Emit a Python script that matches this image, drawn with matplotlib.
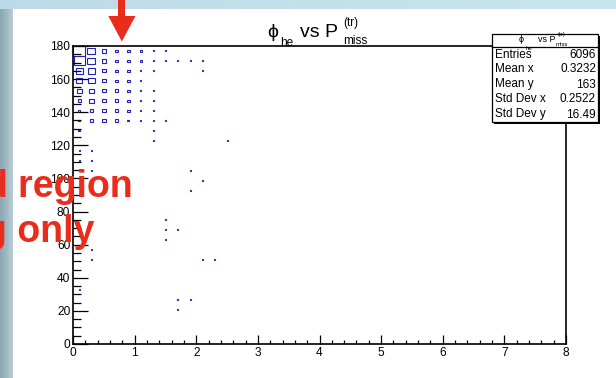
import numpy as np
import matplotlib
matplotlib.use("Agg")
import matplotlib.pyplot as plt
from matplotlib.patches import Rectangle, Polygon

plt.rcParams['font.family'] = ['Liberation Sans', 'DejaVu Sans']

# 2D histogram phi_he vs P_miss^(tr): bin centres (x step 0.2, y step 6) and contents
bin_x = [0.1, 0.3, 0.5, 0.7, 0.9, 1.1, 1.3, 1.5,
         0.1, 0.3, 0.5, 0.7, 0.9, 1.1, 1.3, 1.5, 1.7, 1.9, 2.1,
         0.1, 0.3, 0.5, 0.7, 0.9, 1.1, 1.3, 2.1,
         0.1, 0.3, 0.5, 0.7, 0.9, 1.1,
         0.1, 0.3, 0.5, 0.7, 0.9, 1.1, 1.3,
         0.1, 0.3, 0.5, 0.7, 0.9, 1.1, 1.3,
         0.1, 0.3, 0.5, 0.7, 0.9, 1.1, 1.3,
         0.1, 0.3, 0.5, 0.7, 0.9, 1.1, 1.3, 1.5,
         0.1, 1.3,
         1.3, 2.5,
         0.1, 0.3,
         0.1, 0.3,
         0.3, 1.9,
         2.1,
         1.9,
         1.5,
         1.5, 1.7,
         1.5,
         0.3,
         0.3, 2.1, 2.3,
         0.1,
         1.7, 1.9,
         1.7]
bin_y = [177] * 8 + [171] * 11 + [165] * 8 + [159] * 6 + [153] * 7 + [147] * 7 + \
        [141] * 7 + [135] * 8 + [129] * 2 + [123] * 2 + [117] * 2 + [111] * 2 + \
        [105] * 2 + [99] + [93] + [75] + [69] * 2 + [63] + [57] + [51] * 3 + \
        [33] + [27] * 2 + [21]
bin_count = [930, 394, 102, 58, 34, 14, 6, 6,
             756, 394, 102, 58, 34, 14, 6, 6, 6, 6, 6,
             302, 335, 102, 58, 38, 10, 6, 5,
             198, 224, 102, 58, 34, 10,
             135, 135, 102, 58, 34, 10, 6,
             58, 135, 102, 58, 34, 10, 6,
             38, 84, 84, 58, 34, 10, 6,
             21, 84, 84, 58, 25, 10, 6, 6,
             14, 5,
             5, 4,
             5, 14,
             5, 14,
             14, 4,
             4,
             4,
             4,
             4, 4,
             10,
             5,
             5, 4, 4,
             4,
             4, 4,
             4]

x_ticks = [0, 1, 2, 3, 4, 5, 6, 7, 8]
y_ticks = [0, 20, 40, 60, 80, 100, 120, 140, 160, 180]

stats_labels = ["Entries", "Mean x", "Mean y", "Std Dev x", "Std Dev y"]
stats_values = ["6096", "0.3232", "163", "0.2522", "16.49"]

BIN_W, BIN_H = 0.2, 6.0
BOX_COLOR = '#2222b8'
RED = '#ea2c1c'

W, H = 616, 378
fig = plt.figure(figsize=(W / 100, H / 100), dpi=100)
fig.patch.set_facecolor('white')


def fx(px):
    return px / W


def fy(py):
    return 1 - py / H


# slide background strips around the white canvas
bg = fig.add_axes([0, 0, 1, 1], zorder=-10)
bg.axis('off')
top = np.linspace(0, 1, 64)[None, :, None]
top_img = (1 - top) * np.array([0.74, 0.86, 0.91]) + top * np.array([0.78, 0.90, 0.93])
bg.imshow(np.repeat(top_img, 2, axis=0), extent=(0, W, 9.5, 0), aspect='auto')
left = np.linspace(0, 1, 16)[None, :, None]
left_img = (1 - left) * np.array([0.55, 0.65, 0.70]) + left * np.array([0.72, 0.80, 0.83])
bg.imshow(np.repeat(left_img, 2, axis=0), extent=(0, 12.5, H, 9.5), aspect='auto')
bg.set_xlim(0, W)
bg.set_ylim(H, 0)

# main histogram frame
ax = fig.add_axes([fx(73), fy(344), fx(566) - fx(73), fy(46) - fy(344)])
ax.set_xlim(0, 8)
ax.set_ylim(0, 180)

cmax = max(bin_count)
min_w = 1.0 / 61.6
min_h = 1.0 / 1.655
for x, y, c in zip(bin_x, bin_y, bin_count):
    f = np.sqrt(c / cmax)
    w = max(BIN_W * f, min_w)
    h = max(BIN_H * f, min_h)
    ax.add_patch(Rectangle((x - w / 2, y - h / 2), w, h, fill=False,
                           ec=BOX_COLOR, lw=0.8))

ax.set_xticks(x_ticks)
ax.set_xticklabels([str(t) for t in x_ticks])
ax.set_xticks(np.arange(0, 8.01, 0.2), minor=True)
ax.set_yticks(y_ticks)
ax.set_yticklabels([str(t) for t in y_ticks])
ax.set_yticks(np.arange(0, 180.1, 5), minor=True)
ax.tick_params(axis='x', which='major', direction='in', length=6.5, width=0.9,
               labelsize=8.6, pad=2.5)
ax.tick_params(axis='x', which='minor', direction='in', length=3.2, width=0.9)
ax.tick_params(axis='y', which='major', direction='in', length=10.8, width=0.9,
               labelsize=8.6, pad=2)
ax.tick_params(axis='y', which='minor', direction='in', length=5.4, width=0.9)
for s in ax.spines.values():
    s.set_linewidth(1.2)

# overlay in pixel coordinates: title, stats box, annotations
ov = fig.add_axes([0, 0, 1, 1], zorder=10)
ov.set_xlim(0, W)
ov.set_ylim(H, 0)
ov.axis('off')
ov.patch.set_alpha(0)

# title pieces
ov.text(267.5, 36.7, "\u03d5", fontsize=14, va='baseline', ha='left')
ov.text(280, 46.5, "he", fontsize=8.5, va='baseline', ha='left')
ov.text(300, 36.7, "vs P", fontsize=14, va='baseline', ha='left')
ov.text(343, 26, "(tr)", fontsize=8.5, va='baseline', ha='left')
ov.text(343, 43.5, "miss", fontsize=8.5, va='baseline', ha='left')

# statistics box
bx0, by0, bx1, by1 = 491.5, 33.5, 598, 122
ov.add_patch(Rectangle((bx0 + 2, by0 + 2), bx1 - bx0, by1 - by0, color='black', lw=0))
ov.add_patch(Rectangle((bx0, by0), bx1 - bx0, by1 - by0, fc='white', ec='black', lw=0.9))
sep = 47.0
ov.plot([bx0, bx1], [sep, sep], color='black', lw=0.9)
ov.text(519, 42, "\u03d5", fontsize=6.5, va='baseline', ha='left')
ov.text(526, 50, "he", fontsize=4.3, va='baseline', ha='left')
ov.text(538.5, 42, "vs P", fontsize=6.5, va='baseline', ha='left')
ov.text(558, 36, "(tr)", fontsize=4.3, va='baseline', ha='left')
ov.text(556, 46.5, "miss", fontsize=4.3, va='baseline', ha='left')
row_h = (by1 - sep) / len(stats_labels)
for i, (lab, val) in enumerate(zip(stats_labels, stats_values)):
    yc = sep + row_h * (i + 0.5)
    ov.text(495, yc, lab, fontsize=8.5, va='center', ha='left')
    ov.text(596, yc, val, fontsize=8.5, va='center', ha='right')

# red annotation text and arrow
ov.text(-15, 197, "d region", fontsize=27, weight='bold', color=RED,
        va='baseline', ha='left', clip_on=False)
ov.text(-16, 242, "g only", fontsize=27, weight='bold', color=RED,
        va='baseline', ha='left', clip_on=False)
ov.add_patch(Rectangle((118.3, -1), 6.8, 17.5, color=RED, lw=0))
ov.add_patch(Polygon([[108.3, 16], [135.5, 16], [121.8, 41.5]], closed=True,
                     color=RED, lw=0))

fig.savefig("out.png", dpi=100)
